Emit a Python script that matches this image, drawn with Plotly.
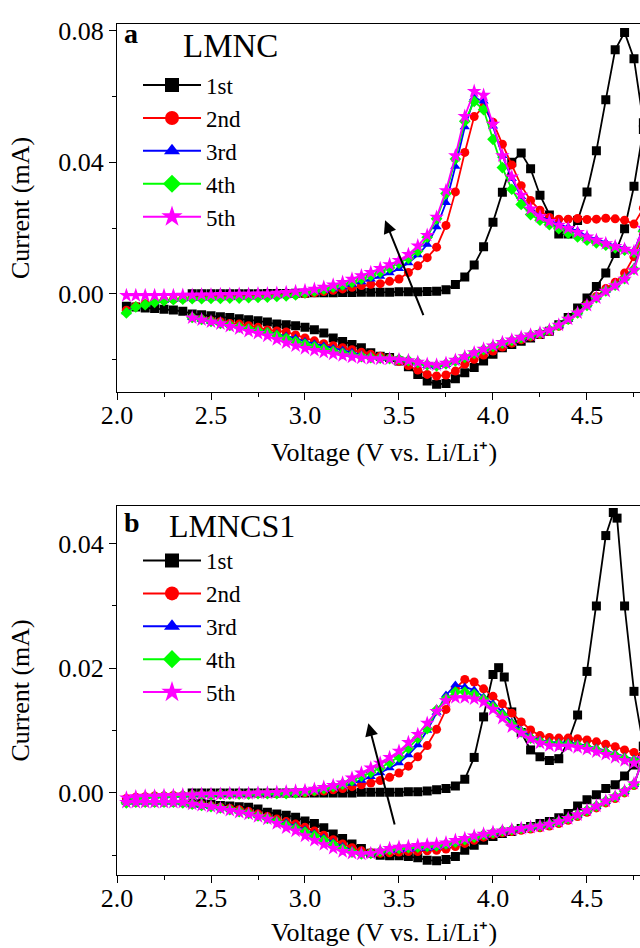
import plotly.graph_objects as go

# ---------------- voltage grids (V vs Li/Li+) ----------------
V_AN = [2.05, 2.10, 2.15, 2.20, 2.25, 2.30, 2.35, 2.40, 2.45, 2.50, 2.55, 2.60, 2.65, 2.70,
        2.75, 2.80, 2.85, 2.90, 2.95, 3.00, 3.05, 3.10, 3.15, 3.20, 3.25, 3.30, 3.35, 3.40,
        3.45, 3.50, 3.55, 3.60, 3.65, 3.70, 3.75, 3.80, 3.85, 3.90, 3.95, 4.00, 4.05, 4.10,
        4.15, 4.20, 4.25, 4.30, 4.35, 4.40, 4.45, 4.50, 4.55, 4.60, 4.65, 4.70, 4.75, 4.80]
V_AN_1ST = [2.40, 2.45, 2.50, 2.55, 2.60, 2.65, 2.70, 2.75, 2.80, 2.85, 2.90, 2.95,
            3.00, 3.05, 3.10, 3.15, 3.20, 3.25, 3.30, 3.35, 3.40, 3.45,
            3.50, 3.55, 3.60, 3.65, 3.70, 3.75, 3.80, 3.85, 3.90, 3.95,
            4.00, 4.05, 4.10, 4.15, 4.20, 4.25, 4.30, 4.35, 4.40, 4.45,
            4.50, 4.55, 4.60, 4.65, 4.70, 4.75, 4.80]
V_AN_1ST_B = [2.40, 2.45, 2.50, 2.55, 2.60, 2.65, 2.70, 2.75, 2.80, 2.85, 2.90, 2.95,
              3.00, 3.05, 3.10, 3.15, 3.20, 3.25, 3.30, 3.35, 3.40, 3.45,
              3.50, 3.55, 3.60, 3.65, 3.70, 3.75, 3.80, 3.85, 3.90, 3.95,
              4.00, 4.03, 4.06, 4.10, 4.15, 4.20, 4.25, 4.30, 4.35, 4.40, 4.45,
              4.50, 4.55, 4.60, 4.64, 4.66, 4.70, 4.75, 4.80]
V_CAT = [4.80, 4.75, 4.70, 4.65, 4.60, 4.55, 4.50, 4.45, 4.40, 4.35,
         4.30, 4.25, 4.20, 4.15, 4.10, 4.05, 4.00, 3.95, 3.90, 3.85,
         3.80, 3.75, 3.70, 3.65, 3.60, 3.55, 3.50, 3.45, 3.40, 3.35,
         3.30, 3.25, 3.20, 3.15, 3.10, 3.05, 3.00, 2.95, 2.90, 2.85,
         2.80, 2.75, 2.70, 2.65, 2.60, 2.55, 2.50, 2.45, 2.40]
V_CAT_FULL = V_CAT + [2.35, 2.30, 2.25, 2.20, 2.15, 2.10, 2.05]

CYCLES = ["1st", "2nd", "3rd", "4th", "5th"]
COLORS = ["#000000", "#FF0000", "#0000FF", "#00FF00", "#FF00FF"]
SYMBOLS = ["square", "circle", "triangle-up", "diamond", "star"]

# ---------------- (a) LMNC, current in mA ----------------
A_1ST_AN = [0.0000, 0.0000, 0.0000, 0.0000, 0.0000, 0.0000, 0.0000, 0.0000, 0.0001, 0.0001, 0.0001, 0.0002,
            0.0002, 0.0003, 0.0003, 0.0003, 0.0004, 0.0004, 0.0005, 0.0005, 0.0005, 0.0005,
            0.0006, 0.0006, 0.0006, 0.0007, 0.0008, 0.0012, 0.0028, 0.0051, 0.0088, 0.0143,
            0.0218, 0.0309, 0.0400, 0.0428, 0.0380, 0.0300, 0.0240, 0.0182, 0.0182, 0.0223,
            0.0310, 0.0435, 0.0590, 0.0742, 0.0795, 0.0715, 0.0520]
A_1ST_CAT = [0.0500, 0.0327, 0.0198, 0.0123, 0.0063, 0.0022, -0.0013, -0.0043, -0.0072, -0.0094,
             -0.0114, -0.0124, -0.0134, -0.0144, -0.0154, -0.0164, -0.0184, -0.0204, -0.0224, -0.0240,
             -0.0258, -0.0273, -0.0275, -0.0265, -0.0245, -0.0222, -0.0204, -0.0194, -0.0190, -0.0179,
             -0.0164, -0.0154, -0.0145, -0.0134, -0.0119, -0.0109, -0.0102, -0.0097, -0.0094, -0.0092,
             -0.0086, -0.0082, -0.0079, -0.0076, -0.0072, -0.0070, -0.0067, -0.0064, -0.0061,
             -0.0053, -0.0049, -0.0047, -0.0045, -0.0043, -0.0040, -0.0038]
A_2ND_AN = [-0.0050, -0.0038, -0.0030, -0.0024, -0.0020, -0.0017, -0.0015,
            -0.0013, -0.0012, -0.0011, -0.0010, -0.0010, -0.0009, -0.0008, -0.0007, -0.0006, -0.0005, -0.0004, -0.0002,
            0.0000, 0.0003, 0.0007, 0.0011, 0.0015, 0.0020, 0.0025, 0.0029, 0.0031, 0.0038,
            0.0045, 0.0065, 0.0085, 0.0110, 0.0142, 0.0208, 0.0310, 0.0430, 0.0539, 0.0569,
            0.0522, 0.0455, 0.0392, 0.0329, 0.0284, 0.0254, 0.0232, 0.0227, 0.0227, 0.0229,
            0.0226, 0.0227, 0.0230, 0.0228, 0.0224, 0.0212, 0.0260]
A_2ND_CAT = [0.0180, 0.0113, 0.0063, 0.0035, 0.0016, -0.0008, -0.0033, -0.0058, -0.0079, -0.0099,
             -0.0114, -0.0124, -0.0131, -0.0140, -0.0150, -0.0162, -0.0174, -0.0186, -0.0199, -0.0214,
             -0.0235, -0.0247, -0.0250, -0.0245, -0.0232, -0.0218, -0.0205, -0.0196, -0.0190, -0.0184,
             -0.0178, -0.0170, -0.0164, -0.0158, -0.0152, -0.0143, -0.0134, -0.0125, -0.0116, -0.0113,
             -0.0110, -0.0102, -0.0097, -0.0092, -0.0090, -0.0085, -0.0082, -0.0078, -0.0073]
A_3RD_AN = [-0.0055, -0.0040, -0.0032, -0.0026, -0.0021, -0.0018, -0.0016,
            -0.0015, -0.0014, -0.0013, -0.0013, -0.0012, -0.0012, -0.0011, -0.0010, -0.0009, -0.0007, -0.0005, -0.0002,
            0.0002, 0.0006, 0.0010, 0.0015, 0.0021, 0.0028, 0.0036, 0.0044, 0.0053, 0.0063,
            0.0076, 0.0094, 0.0118, 0.0150, 0.0203, 0.0277, 0.0387, 0.0507, 0.0596, 0.0586,
            0.0510, 0.0420, 0.0350, 0.0295, 0.0258, 0.0237, 0.0223, 0.0213, 0.0203, 0.0191,
            0.0176, 0.0166, 0.0156, 0.0147, 0.0139, 0.0131, 0.0200]
A_3RD_CAT = [0.0170, 0.0080, 0.0048, 0.0027, 0.0010, -0.0011, -0.0034, -0.0058, -0.0077, -0.0096,
             -0.0111, -0.0121, -0.0127, -0.0135, -0.0143, -0.0152, -0.0163, -0.0173, -0.0184, -0.0196,
             -0.0207, -0.0216, -0.0222, -0.0219, -0.0211, -0.0204, -0.0199, -0.0196, -0.0194, -0.0190,
             -0.0185, -0.0178, -0.0172, -0.0166, -0.0159, -0.0152, -0.0145, -0.0135, -0.0128, -0.0121,
             -0.0114, -0.0109, -0.0104, -0.0098, -0.0094, -0.0088, -0.0084, -0.0078, -0.0073]
A_4TH_AN = [-0.0058, -0.0040, -0.0033, -0.0026, -0.0021, -0.0018, -0.0016,
            -0.0015, -0.0015, -0.0014, -0.0014, -0.0013, -0.0013, -0.0012, -0.0011, -0.0010, -0.0008, -0.0006, -0.0003,
            0.0003, 0.0008, 0.0014, 0.0020, 0.0027, 0.0035, 0.0045, 0.0055, 0.0066, 0.0079,
            0.0093, 0.0108, 0.0130, 0.0172, 0.0228, 0.0305, 0.0410, 0.0525, 0.0585, 0.0560,
            0.0470, 0.0384, 0.0318, 0.0272, 0.0241, 0.0224, 0.0210, 0.0198, 0.0184, 0.0173,
            0.0163, 0.0155, 0.0148, 0.0140, 0.0133, 0.0126, 0.0190]
A_4TH_CAT = [0.0165, 0.0075, 0.0046, 0.0026, 0.0009, -0.0012, -0.0035, -0.0058, -0.0077, -0.0095,
             -0.0110, -0.0120, -0.0126, -0.0134, -0.0142, -0.0150, -0.0160, -0.0170, -0.0181, -0.0193,
             -0.0204, -0.0213, -0.0219, -0.0216, -0.0209, -0.0203, -0.0199, -0.0197, -0.0196, -0.0194,
             -0.0191, -0.0186, -0.0181, -0.0175, -0.0168, -0.0161, -0.0154, -0.0145, -0.0136, -0.0127,
             -0.0119, -0.0113, -0.0107, -0.0101, -0.0096, -0.0090, -0.0084, -0.0078, -0.0072]
A_5TH_AN = [-0.0005, -0.0005, -0.0005, -0.0005, -0.0005, -0.0005, -0.0004,
            -0.0004, -0.0003, -0.0003, -0.0002, -0.0002, -0.0001, -0.0001, 0.0000, 0.0000, 0.0002, 0.0004, 0.0007,
            0.0010, 0.0014, 0.0020, 0.0027, 0.0035, 0.0045, 0.0055, 0.0065, 0.0077, 0.0089,
            0.0102, 0.0120, 0.0146, 0.0178, 0.0233, 0.0314, 0.0420, 0.0540, 0.0616, 0.0604,
            0.0516, 0.0420, 0.0356, 0.0300, 0.0258, 0.0235, 0.0220, 0.0209, 0.0199, 0.0187,
            0.0173, 0.0163, 0.0153, 0.0144, 0.0136, 0.0129, 0.0200]
A_5TH_CAT = [0.0160, 0.0072, 0.0045, 0.0025, 0.0008, -0.0012, -0.0035, -0.0058, -0.0077, -0.0095,
             -0.0110, -0.0119, -0.0125, -0.0132, -0.0140, -0.0148, -0.0158, -0.0168, -0.0179, -0.0191,
             -0.0202, -0.0211, -0.0216, -0.0214, -0.0208, -0.0203, -0.0200, -0.0198, -0.0198, -0.0197,
             -0.0195, -0.0192, -0.0188, -0.0183, -0.0178, -0.0172, -0.0166, -0.0158, -0.0149, -0.0139,
             -0.0128, -0.0120, -0.0114, -0.0106, -0.0099, -0.0091, -0.0085, -0.0079, -0.0073]

# ---------------- (b) LMNCS1, current in mA ----------------
B_1ST_AN = [0.0000, 0.0000, 0.0000, 0.0000, 0.0000, 0.0000, 0.0000, 0.0000, 0.0000, 0.0000, 0.0000, 0.0000,
            0.0000, 0.0000, 0.0000, 0.0000, 0.0000, 0.0000, 0.0001, 0.0001, 0.0001, 0.0001,
            0.0001, 0.0002, 0.0002, 0.0003, 0.0005, 0.0007, 0.0011, 0.0022, 0.0057, 0.0122,
            0.0190, 0.0201, 0.0186, 0.0130, 0.0097, 0.0069, 0.0058, 0.0052, 0.0055, 0.0082, 0.0125,
            0.0195, 0.0300, 0.0413, 0.0450, 0.0441, 0.0300, 0.0163, 0.0075]
B_1ST_CAT = [0.0075, 0.0045, 0.0027, 0.0013, 0.0007, -0.0003, -0.0011, -0.0021, -0.0033, -0.0040,
             -0.0046, -0.0049, -0.0054, -0.0057, -0.0062, -0.0065, -0.0070, -0.0076, -0.0084, -0.0092,
             -0.0102, -0.0107, -0.0109, -0.0108, -0.0104, -0.0102, -0.0101, -0.0101, -0.0100, -0.0097,
             -0.0089, -0.0082, -0.0073, -0.0066, -0.0056, -0.0049, -0.0045, -0.0039, -0.0036, -0.0034,
             -0.0031, -0.0026, -0.0023, -0.0022, -0.0021, -0.0020, -0.0018, -0.0017, -0.0016]
B_2ND_AN = [-0.0009, -0.0007, -0.0006, -0.0005, -0.0005, -0.0004, -0.0004,
            -0.0003, -0.0003, -0.0003, -0.0002, -0.0002, -0.0002, -0.0002, -0.0001, -0.0001, -0.0001, -0.0001, 0.0000,
            0.0000, 0.0002, 0.0003, 0.0005, 0.0007, 0.0010, 0.0013, 0.0016, 0.0020, 0.0025,
            0.0032, 0.0043, 0.0058, 0.0076, 0.0102, 0.0134, 0.0168, 0.0182, 0.0178, 0.0167,
            0.0155, 0.0143, 0.0128, 0.0114, 0.0101, 0.0092, 0.0089, 0.0088, 0.0088, 0.0087,
            0.0085, 0.0082, 0.0078, 0.0074, 0.0069, 0.0065, 0.0060]
B_2ND_CAT = [0.0060, 0.0012, 0.0000, -0.0009, -0.0016, -0.0024, -0.0031, -0.0038, -0.0044, -0.0049,
             -0.0053, -0.0056, -0.0058, -0.0060, -0.0062, -0.0064, -0.0067, -0.0071, -0.0076, -0.0081,
             -0.0086, -0.0090, -0.0092, -0.0093, -0.0094, -0.0094, -0.0095, -0.0096, -0.0097, -0.0096,
             -0.0093, -0.0088, -0.0082, -0.0075, -0.0068, -0.0061, -0.0055, -0.0050, -0.0046, -0.0042,
             -0.0038, -0.0034, -0.0030, -0.0027, -0.0025, -0.0023, -0.0021, -0.0019, -0.0018,
             -0.0016, -0.0015, -0.0015, -0.0015, -0.0015, -0.0015, -0.0015]
B_3RD_AN = [-0.0010, -0.0007, -0.0006, -0.0005, -0.0005, -0.0004, -0.0004,
            -0.0003, -0.0003, -0.0003, -0.0002, -0.0002, -0.0002, -0.0002, -0.0001, -0.0001, -0.0001, -0.0001, 0.0000,
            0.0001, 0.0003, 0.0005, 0.0008, 0.0011, 0.0015, 0.0020, 0.0026, 0.0032, 0.0040,
            0.0048, 0.0061, 0.0077, 0.0100, 0.0129, 0.0157, 0.0173, 0.0170, 0.0165, 0.0154,
            0.0143, 0.0130, 0.0114, 0.0101, 0.0091, 0.0085, 0.0082, 0.0081, 0.0081, 0.0079,
            0.0076, 0.0072, 0.0068, 0.0063, 0.0058, 0.0054, 0.0058]
B_3RD_CAT = [0.0058, 0.0013, 0.0002, -0.0007, -0.0014, -0.0022, -0.0029, -0.0036, -0.0042, -0.0047,
             -0.0051, -0.0054, -0.0056, -0.0058, -0.0060, -0.0062, -0.0065, -0.0069, -0.0073, -0.0077,
             -0.0081, -0.0085, -0.0088, -0.0089, -0.0090, -0.0091, -0.0092, -0.0093, -0.0095, -0.0097,
             -0.0096, -0.0092, -0.0086, -0.0079, -0.0072, -0.0065, -0.0059, -0.0053, -0.0048, -0.0044,
             -0.0040, -0.0036, -0.0032, -0.0029, -0.0026, -0.0024, -0.0022, -0.0020, -0.0018,
             -0.0016, -0.0015, -0.0015, -0.0015, -0.0015, -0.0015, -0.0015]
B_4TH_AN = [-0.0016, -0.0009, -0.0007, -0.0006, -0.0005, -0.0005, -0.0004,
            -0.0003, -0.0003, -0.0003, -0.0002, -0.0002, -0.0002, -0.0002, -0.0001, -0.0001, -0.0001, -0.0001, 0.0000,
            0.0002, 0.0004, 0.0007, 0.0010, 0.0014, 0.0020, 0.0027, 0.0033, 0.0040, 0.0049,
            0.0058, 0.0072, 0.0088, 0.0103, 0.0133, 0.0151, 0.0162, 0.0162, 0.0158, 0.0150,
            0.0138, 0.0125, 0.0110, 0.0098, 0.0088, 0.0082, 0.0079, 0.0078, 0.0078, 0.0076,
            0.0073, 0.0069, 0.0065, 0.0060, 0.0055, 0.0051, 0.0056]
B_4TH_CAT = [0.0056, 0.0014, 0.0003, -0.0006, -0.0013, -0.0021, -0.0028, -0.0035, -0.0041, -0.0046,
             -0.0050, -0.0053, -0.0055, -0.0057, -0.0059, -0.0061, -0.0064, -0.0067, -0.0071, -0.0075,
             -0.0079, -0.0082, -0.0085, -0.0086, -0.0087, -0.0088, -0.0089, -0.0091, -0.0094, -0.0097,
             -0.0098, -0.0095, -0.0090, -0.0083, -0.0076, -0.0069, -0.0063, -0.0057, -0.0052, -0.0046,
             -0.0041, -0.0037, -0.0033, -0.0030, -0.0027, -0.0024, -0.0022, -0.0020, -0.0018,
             -0.0016, -0.0015, -0.0015, -0.0015, -0.0015, -0.0015, -0.0015]
B_5TH_AN = [-0.0008, -0.0006, -0.0005, -0.0005, -0.0004, -0.0004, -0.0003,
            -0.0003, -0.0002, -0.0002, -0.0002, -0.0001, -0.0001, -0.0001, 0.0000, 0.0000, 0.0001, 0.0002, 0.0003,
            0.0004, 0.0006, 0.0009, 0.0012, 0.0016, 0.0024, 0.0032, 0.0040, 0.0048, 0.0057,
            0.0067, 0.0081, 0.0094, 0.0112, 0.0131, 0.0148, 0.0153, 0.0153, 0.0151, 0.0146,
            0.0134, 0.0120, 0.0106, 0.0096, 0.0087, 0.0080, 0.0076, 0.0075, 0.0075, 0.0073,
            0.0070, 0.0066, 0.0062, 0.0057, 0.0052, 0.0048, 0.0055]
B_5TH_CAT = [0.0055, 0.0015, 0.0003, -0.0006, -0.0013, -0.0021, -0.0028, -0.0035, -0.0041, -0.0046,
             -0.0050, -0.0053, -0.0055, -0.0057, -0.0059, -0.0061, -0.0063, -0.0066, -0.0069, -0.0073,
             -0.0076, -0.0080, -0.0082, -0.0083, -0.0084, -0.0086, -0.0087, -0.0089, -0.0093, -0.0097,
             -0.0098, -0.0097, -0.0094, -0.0089, -0.0083, -0.0076, -0.0069, -0.0061, -0.0056, -0.0049,
             -0.0042, -0.0038, -0.0034, -0.0031, -0.0028, -0.0025, -0.0022, -0.0020, -0.0018,
             -0.0015, -0.0015, -0.0015, -0.0015, -0.0015, -0.0015, -0.0015]

PANEL_A = [(V_AN_1ST, A_1ST_AN, V_CAT_FULL, A_1ST_CAT),
           (V_AN, A_2ND_AN, V_CAT, A_2ND_CAT),
           (V_AN, A_3RD_AN, V_CAT, A_3RD_CAT),
           (V_AN, A_4TH_AN, V_CAT, A_4TH_CAT),
           (V_AN, A_5TH_AN, V_CAT, A_5TH_CAT)]
PANEL_B = [(V_AN_1ST_B, B_1ST_AN, V_CAT, B_1ST_CAT),
           (V_AN, B_2ND_AN, V_CAT_FULL, B_2ND_CAT),
           (V_AN, B_3RD_AN, V_CAT_FULL, B_3RD_CAT),
           (V_AN, B_4TH_AN, V_CAT_FULL, B_4TH_CAT),
           (V_AN, B_5TH_AN, V_CAT_FULL, B_5TH_CAT)]

FONT = "Liberation Serif"
W, H = 640, 948
L_PX = 117

fig = go.Figure()

def add_panel(panel, xa, ya, legend_name):
    for i, (xv1, yv1, xv2, yv2) in enumerate(panel):
        fig.add_trace(go.Scatter(
            x=xv1 + xv2, y=yv1 + yv2, xaxis=xa, yaxis=ya,
            mode="lines+markers", name=CYCLES[i], showlegend=False,
            line=dict(color=COLORS[i], width=1.8),
            marker=dict(symbol=SYMBOLS[i], size=9 if SYMBOLS[i] != "star" else 11,
                        color=COLORS[i], line=dict(width=0)),
            cliponaxis=True))
    for i in range(5):
        fig.add_trace(go.Scatter(
            x=[None], y=[None], xaxis=xa, yaxis=ya, mode="lines+markers",
            name=CYCLES[i], legend=legend_name,
            line=dict(color=COLORS[i], width=2),
            marker=dict(symbol=SYMBOLS[i], size=14 if SYMBOLS[i] != "star" else 16,
                        color=COLORS[i], line=dict(width=0))))

add_panel(PANEL_A, "x", "y", "legend")
add_panel(PANEL_B, "x2", "y2", "legend2")

def py(p):
    return 1 - p / H

def px(p):
    return (p - L_PX) / (W - L_PX)

TICK_SIZE = 26
TITLE_SIZE = 26
axis_common = dict(showline=True, linecolor="black", linewidth=1.3, ticks="outside",
                   ticklen=7, tickwidth=1.3, tickcolor="black", showgrid=False, zeroline=False,
                   tickfont=dict(family=FONT, size=TICK_SIZE, color="black"))
xcommon = dict(axis_common, range=[2.0, 4.782], tick0=2.0, dtick=0.5, tickformat=".1f",
               mirror=True, ticklabelstandoff=-7,
               minor=dict(dtick=0.25, ticks="outside", ticklen=4, tickwidth=1.3, tickcolor="black"))
legend_common = dict(xanchor="left", yanchor="top", bgcolor="rgba(0,0,0,0)", borderwidth=0,
                     tracegroupgap=0, font=dict(family=FONT, size=23, color="black"), itemwidth=58)

fig.update_layout(
    width=W, height=H, margin=dict(l=L_PX, r=0, t=0, b=0),
    paper_bgcolor="white", plot_bgcolor="white",
    xaxis=dict(xcommon, domain=[0, 1], anchor="y"),
    yaxis=dict(axis_common, domain=[py(388), py(17)], anchor="x",
               range=[-0.0299, 0.0821], tick0=0, dtick=0.04, tickformat=".2f",
               minor=dict(dtick=0.02, ticks="outside", ticklen=4, tickwidth=1.3, tickcolor="black"),
               title=dict(text="Current (mA)", font=dict(family=FONT, size=TITLE_SIZE, color="black"),
                          standoff=21)),
    xaxis2=dict(xcommon, domain=[0, 1], anchor="y2"),
    yaxis2=dict(axis_common, domain=[py(874), py(503)], anchor="x2",
                range=[-0.0131, 0.0460], tick0=0, dtick=0.02, tickformat=".2f",
                minor=dict(dtick=0.01, ticks="outside", ticklen=4, tickwidth=1.3, tickcolor="black"),
                title=dict(text="Current (mA)", font=dict(family=FONT, size=TITLE_SIZE, color="black"),
                           standoff=21)),
    legend=dict(legend_common, x=px(138), y=py(57)),
    legend2=dict(legend_common, x=px(138), y=py(536)),
    showlegend=True,
)

# x-axis titles (placed under each panel)
for y_center in (449, 932):
    fig.add_annotation(x=px(384), y=py(y_center), xref="paper", yref="paper",
                       xanchor="center", yanchor="middle", showarrow=False,
                       text="Voltage (V vs. Li/Li\u207a)",
                       font=dict(family=FONT, size=TITLE_SIZE, color="black"))

# panel letters and sample names
fig.add_annotation(x=px(122), y=py(27), xref="paper", yref="paper", xanchor="left", yanchor="middle",
                   text="<b>a</b>", showarrow=False, font=dict(family=FONT, size=28, color="black"))
fig.add_annotation(x=px(181), y=py(39), xref="paper", yref="paper", xanchor="left", yanchor="middle",
                   text="LMNC", showarrow=False, font=dict(family=FONT, size=33, color="black"))
fig.add_annotation(x=px(122), y=py(519), xref="paper", yref="paper", xanchor="left", yanchor="middle",
                   text="<b>b</b>", showarrow=False, font=dict(family=FONT, size=28, color="black"))
fig.add_annotation(x=px(167), y=py(523), xref="paper", yref="paper", xanchor="left", yanchor="middle",
                   text="LMNCS1", showarrow=False, font=dict(family=FONT, size=32, color="black"))

# trend arrows (tail -> head, data coordinates)
ARROW_A = dict(head=(3.426, 0.0224), tail=(3.633, -0.0069))
ARROW_B = dict(head=(3.337, 0.0112), tail=(3.479, -0.0053))
for arr, xr, yr in [(ARROW_A, "x", "y"), (ARROW_B, "x2", "y2")]:
    fig.add_annotation(x=arr["head"][0], y=arr["head"][1], ax=arr["tail"][0], ay=arr["tail"][1],
                       xref=xr, yref=yr, axref=xr, ayref=yr, text="", showarrow=True,
                       arrowhead=2, arrowsize=1.3, arrowwidth=2, arrowcolor="black")

fig.write_html("out.html")
